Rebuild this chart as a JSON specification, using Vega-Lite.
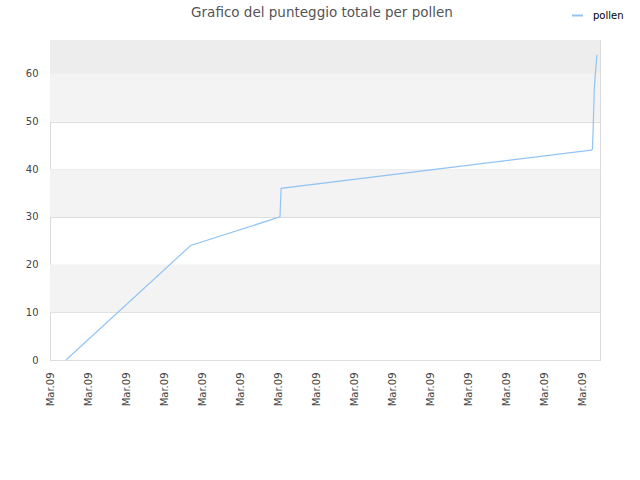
{
  "$schema": "https://vega.github.io/schema/vega-lite/v6.json",
  "width": 550,
  "height": 320,
  "autosize": {"type": "none"},
  "padding": {"left": 50, "top": 40, "right": 40, "bottom": 120},
  "background": "white",
  "title": {
    "text": "Grafico del punteggio totale per pollen",
    "font": "DejaVu Sans",
    "fontSize": 13.5,
    "fontWeight": "normal",
    "color": "#555555",
    "anchor": "middle",
    "frame": "group",
    "dx": -3,
    "offset": -10
  },
  "config": {
    "view": {"stroke": "#d9d9d9"},
    "font": "DejaVu Sans",
    "axisY": {
      "title": null,
      "values": [0, 10, 20, 30, 40, 50, 60],
      "ticks": false,
      "domain": false,
      "grid": true,
      "gridColor": "#dddddd",
      "labelFontSize": 10,
      "labelColor": "#444444",
      "labelPadding": 12,
      "labelFont": "DejaVu Sans"
    }
  },
  "layer": [
    {
      "data": {"values": [
        {"lo": 10, "hi": 20},
        {"lo": 30, "hi": 40},
        {"lo": 50, "hi": 60}
      ]},
      "mark": {"type": "rect", "fill": "#f3f3f3"},
      "encoding": {
        "y": {"field": "lo", "type": "quantitative", "scale": {"domain": [0, 67.1], "nice": false}, "title": null},
        "y2": {"field": "hi"}
      }
    },
    {
      "data": {"values": [
        {"lo": 60, "hi": 67.1}
      ]},
      "mark": {"type": "rect", "fill": "#ededed"},
      "encoding": {
        "y": {"field": "lo", "type": "quantitative", "scale": {"domain": [0, 67.1], "nice": false}, "title": null},
        "y2": {"field": "hi"}
      }
    },
    {
      "data": {"values": [
        {"series": "pollen", "t": 0.42, "score": 0},
        {"series": "pollen", "t": 3.70, "score": 24},
        {"series": "pollen", "t": 6.05, "score": 30},
        {"series": "pollen", "t": 6.08, "score": 36},
        {"series": "pollen", "t": 14.24, "score": 44},
        {"series": "pollen", "t": 14.27, "score": 44.2},
        {"series": "pollen", "t": 14.29, "score": 48.4},
        {"series": "pollen", "t": 14.32, "score": 56.8},
        {"series": "pollen", "t": 14.36, "score": 61.2},
        {"series": "pollen", "t": 14.39, "score": 64}
      ]},
      "mark": {"type": "line", "strokeWidth": 1.2, "interpolate": "linear"},
      "encoding": {
        "x": {
          "field": "t",
          "type": "quantitative",
          "scale": {"domain": [0, 14.47], "nice": false, "zero": false},
          "axis": {
            "title": null,
            "values": [0, 1, 2, 3, 4, 5, 6, 7, 8, 9, 10, 11, 12, 13, 14],
            "labelExpr": "'Mar.09'",
            "labelAngle": -90,
            "labelAlign": "right",
            "labelBaseline": "middle",
            "labelPadding": 12,
            "labelFontSize": 10,
            "labelColor": "#444444",
            "labelFont": "DejaVu Sans",
            "ticks": false,
            "domain": false,
            "grid": false,
            "labelOverlap": false,
            "labelBound": false,
            "labelFlush": false
          }
        },
        "y": {
          "field": "score",
          "type": "quantitative",
          "scale": {"domain": [0, 67.1], "nice": false},
          "title": null
        },
        "color": {
          "field": "series",
          "type": "nominal",
          "scale": {"domain": ["pollen"], "range": ["#92c4f2"]},
          "legend": {
            "title": null,
            "orient": "none",
            "legendX": 521,
            "legendY": -31,
            "symbolType": "stroke",
            "symbolSize": 121,
            "symbolStrokeWidth": 2,
            "labelOffset": 9,
            "labelFontSize": 10,
            "labelColor": "#000000",
            "labelFont": "DejaVu Sans",
            "padding": 0
          }
        }
      }
    }
  ]
}
